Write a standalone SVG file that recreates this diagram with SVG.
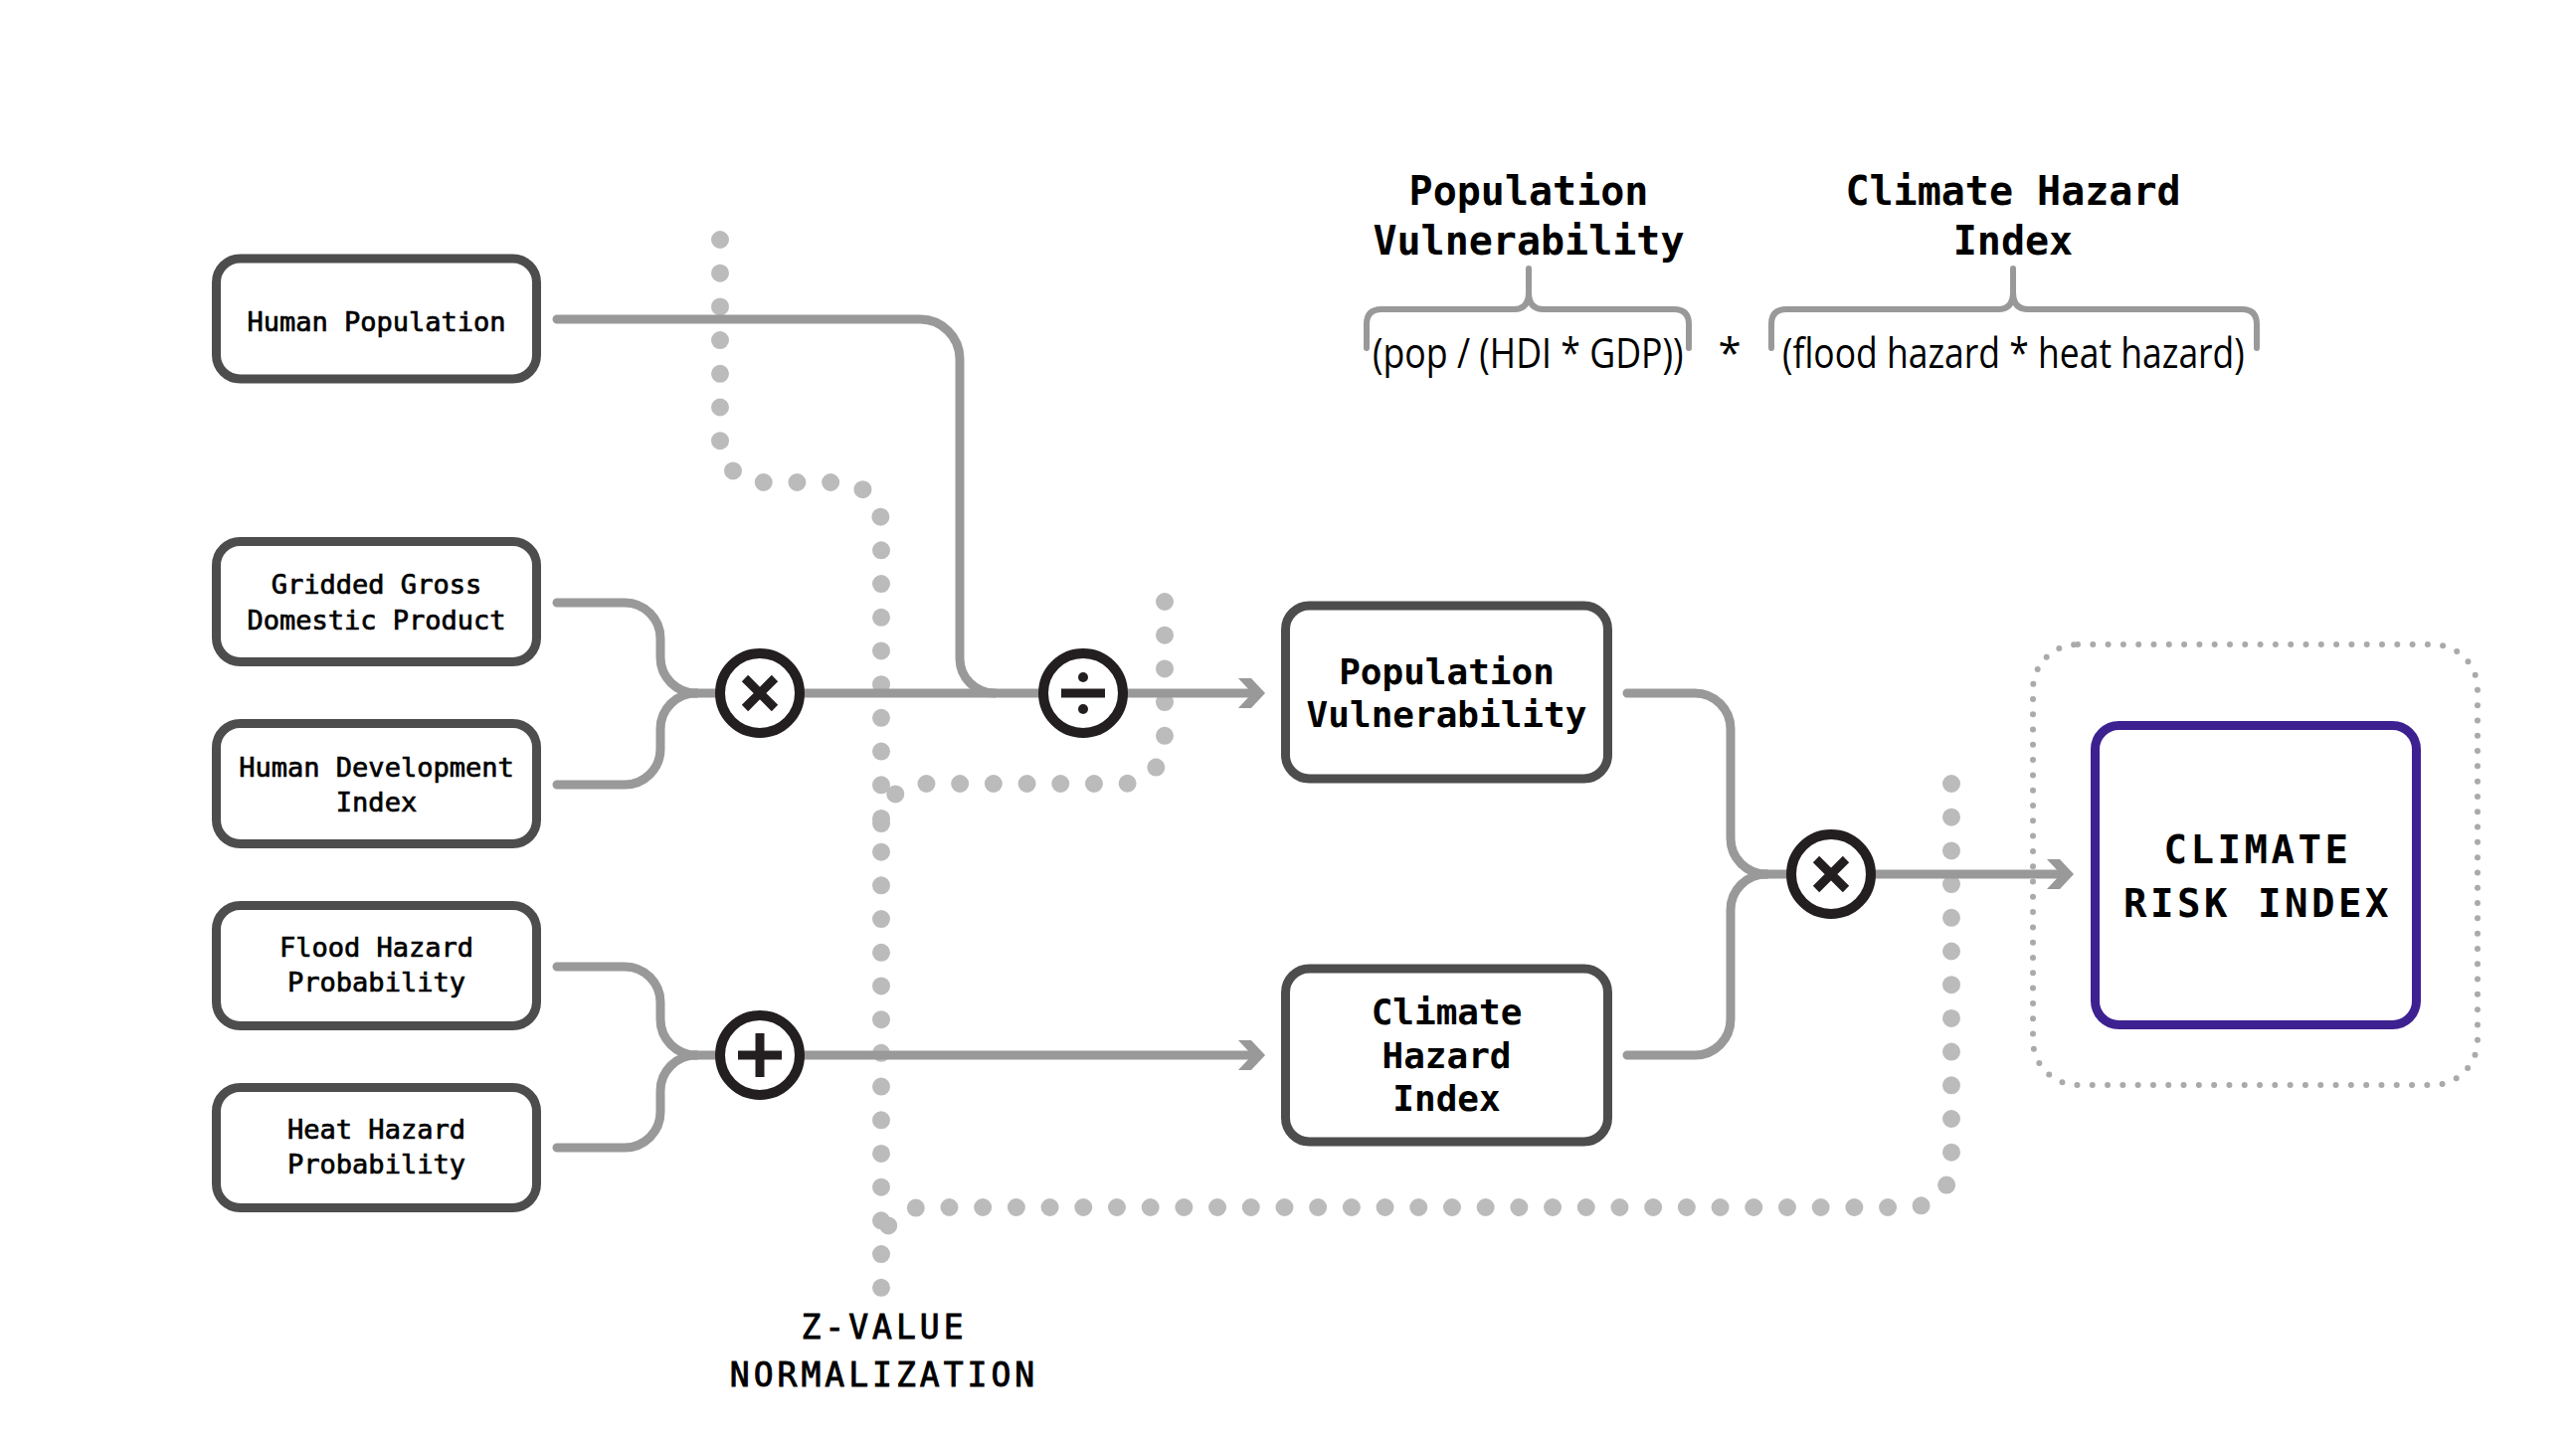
<svg xmlns="http://www.w3.org/2000/svg" width="2590" height="1456" viewBox="0 0 2590 1456">
<defs>
<style>
.box{fill:#fff;stroke:#4d4d4d;stroke-width:9}
.final{fill:#fff;stroke:#3d2190;stroke-width:9}
.t{font-family:"DejaVu Sans Mono","Liberation Mono",monospace;font-size:27px;fill:#000;stroke:#000;stroke-width:0.7px;text-anchor:middle}
.tb{font-family:"DejaVu Sans Mono","Liberation Mono",monospace;font-size:36px;font-weight:bold;fill:#000;text-anchor:middle}
.hd{font-family:"DejaVu Sans Mono","Liberation Mono",monospace;font-size:40px;font-weight:bold;fill:#000;text-anchor:middle}
.cri{font-family:"DejaVu Sans Mono","Liberation Mono",monospace;font-size:39px;font-weight:bold;fill:#000;text-anchor:middle;letter-spacing:3.5px}
.zv{font-family:"DejaVu Sans Mono","Liberation Mono",monospace;font-size:33px;fill:#000;stroke:#000;stroke-width:0.9px;text-anchor:middle;letter-spacing:4px}
.f{font-family:"Open Sans","Noto Sans",sans-serif;font-size:42px;fill:#000}
.ln{fill:none;stroke:#999;stroke-width:9;stroke-linecap:round}
.dot{fill:none;stroke:#bbb;stroke-width:18;stroke-linecap:round;stroke-dasharray:0 33.7}
.sdot{fill:none;stroke:#aaa;stroke-width:6;stroke-linecap:round;stroke-dasharray:0 15.3}
.brace{fill:none;stroke:#999;stroke-width:6;stroke-linecap:round;stroke-linejoin:round}
.op{fill:#fff;stroke:#231f20;stroke-width:10}
.sym{stroke:#231f20;stroke-width:9;fill:none}
</style>
<marker id="arr" markerUnits="userSpaceOnUse" markerWidth="40" markerHeight="40" viewBox="-30 -20 40 40" refX="0" refY="0" orient="auto">
<path d="M-19,-15 L-6,-15 L8,0 L-6,15 L-19,15 L-5,0 Z" fill="#999"/>
</marker>
</defs>
<rect width="2590" height="1456" fill="#fff"/>

<g id="connectors">
<path class="dot" d="M724,241 V443 A42,42 0 0 0 766,485 H844 A42,42 0 0 1 886,527 V1297"/>
<path class="dot" d="M1171,605 V746 A42,42 0 0 1 1129,788 H928 A42,42 0 0 0 886,830"/>
<path class="dot" d="M1962,788 V1172 A42,42 0 0 1 1920,1214 H928 A42,42 0 0 0 886,1256"/>
<path class="ln" d="M560,321 H925 A40,40 0 0 1 965,361 V662 A35,35 0 0 0 1000,697"/>
<path class="ln" d="M560,606 H628 A36,36 0 0 1 664,642 V661 A36,36 0 0 0 700,697"/>
<path class="ln" d="M560,789 H628 A36,36 0 0 0 664,753 V733 A36,36 0 0 1 700,697"/>
<path class="ln" d="M700,697 H1264" stroke-linecap="butt" marker-end="url(#arr)"/>
<path class="ln" d="M560,972 H628 A36,36 0 0 1 664,1008 V1025 A36,36 0 0 0 700,1061"/>
<path class="ln" d="M560,1154 H628 A36,36 0 0 0 664,1118 V1097 A36,36 0 0 1 700,1061"/>
<path class="ln" d="M700,1061 H1264" stroke-linecap="butt" marker-end="url(#arr)"/>
<path class="ln" d="M1636,697 H1704 A36,36 0 0 1 1740,733 V843 A36,36 0 0 0 1776,879"/>
<path class="ln" d="M1636,1061 H1704 A36,36 0 0 0 1740,1025 V915 A36,36 0 0 1 1776,879"/>
<path class="ln" d="M1776,879 H2077" stroke-linecap="butt" marker-end="url(#arr)"/>
</g>

<g id="op-multiply-1">
<circle class="op" cx="764" cy="697" r="40"/>
<path class="sym" d="M749,682 L779,712 M749,712 L779,682"/>
</g>
<g id="op-divide">
<circle class="op" cx="1089" cy="697" r="40"/>
<path class="sym" d="M1067,697 H1111"/>
<circle cx="1089" cy="681" r="5" fill="#231f20"/>
<circle cx="1089" cy="713" r="5" fill="#231f20"/>
</g>
<g id="op-add">
<circle class="op" cx="764" cy="1061" r="40"/>
<path class="sym" d="M742,1061 H786 M764,1039 V1083"/>
</g>
<g id="op-multiply-2">
<circle class="op" cx="1841" cy="879" r="40"/>
<path class="sym" d="M1826,864 L1856,894 M1826,894 L1856,864"/>
</g>

<g id="human-population">
<rect class="box" x="217.5" y="260" width="322" height="121" rx="24"/>
<text class="t" x="378.5" y="333">Human Population</text>
</g>
<g id="gdp">
<rect class="box" x="217.5" y="544.5" width="322" height="121" rx="24"/>
<text class="t" x="378.5" y="597">Gridded Gross</text>
<text class="t" x="378.5" y="632.5">Domestic Product</text>
</g>
<g id="hdi">
<rect class="box" x="217.5" y="727.5" width="322" height="121" rx="24"/>
<text class="t" x="378.5" y="780.5">Human Development</text>
<text class="t" x="378.5" y="816">Index</text>
</g>
<g id="flood">
<rect class="box" x="217.5" y="910.5" width="322" height="121" rx="24"/>
<text class="t" x="378.5" y="962">Flood Hazard</text>
<text class="t" x="378.5" y="997">Probability</text>
</g>
<g id="heat">
<rect class="box" x="217.5" y="1093.5" width="322" height="121" rx="24"/>
<text class="t" x="378.5" y="1144.5">Heat Hazard</text>
<text class="t" x="378.5" y="1180">Probability</text>
</g>

<g id="population-vulnerability">
<rect class="box" x="1292.5" y="609" width="324" height="174" rx="24"/>
<text class="tb" x="1454.5" y="688">Population</text>
<text class="tb" x="1454.5" y="731">Vulnerability</text>
</g>
<g id="climate-hazard-index">
<rect class="box" x="1292.5" y="974" width="324" height="174" rx="24"/>
<text class="tb" x="1454.5" y="1030">Climate</text>
<text class="tb" x="1454.5" y="1073.5">Hazard</text>
<text class="tb" x="1454.5" y="1117">Index</text>
</g>

<g id="climate-risk-index">
<rect class="sdot" x="2044" y="648" width="447" height="443" rx="45"/>
<rect class="final" x="2106.5" y="729.5" width="323" height="301" rx="24"/>
<text class="cri" x="2270" y="868">CLIMATE</text>
<text class="cri" x="2270" y="922">RISK INDEX</text>
</g>

<g id="normalization-label">
<text class="zv" x="889" y="1346">Z-VALUE</text>
<text class="zv" x="889" y="1394">NORMALIZATION</text>
</g>

<g id="formula">
<text class="hd" x="1537" y="206">Population</text>
<text class="hd" x="1537" y="256">Vulnerability</text>
<text class="hd" x="2024" y="206">Climate Hazard</text>
<text class="hd" x="2024" y="256">Index</text>
<path class="brace" d="M1374,350 V326 Q1374,311 1389,311 H1522 Q1537,311 1537,294 Q1537,311 1552,311 H1683 Q1698,311 1698,326 V350 M1537,294 V270"/>
<path class="brace" d="M1781,350 V326 Q1781,311 1796,311 H2009 Q2024,311 2024,294 Q2024,311 2039,311 H2254 Q2269,311 2269,326 V350 M2024,294 V270"/>
<text class="f" transform="translate(1380,370) scale(0.85,1)" x="0" y="0">(pop / (HDI * GDP))</text>
<text class="f" x="1739" y="370" text-anchor="middle">*</text>
<text class="f" transform="translate(1792,370) scale(0.845,1)" x="0" y="0">(flood hazard * heat hazard)</text>
</g>
</svg>
